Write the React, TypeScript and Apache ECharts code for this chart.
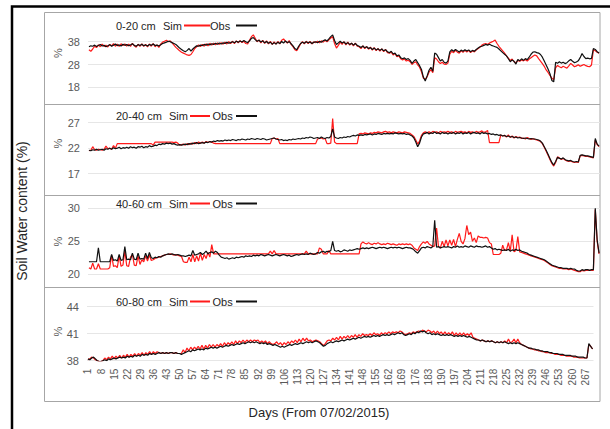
import React, { useEffect, useRef } from "react";
import * as echarts from "echarts";

const days: string[] = Array.from({ length: 271 }, (_, i) => String(i + 1));

const depthLabels = ["0-20 cm", "20-40 cm", "40-60 cm", "60-80 cm"];
const yMins = [18, 17, 20, 38];
const yMaxs = [43, 29, 30, 44];
const yIntervals = [10, 5, 5, 3];

const sim1 = [
  34.5, 33.8, 34.8, 36.0, 35.4, 36.6, 35.8, 36.9, 35.9, 36.5,
  35.7, 36.8, 36.2, 37.2, 36.0, 36.9, 35.9, 37.1, 36.3, 37.0,
  36.1, 36.9, 35.9, 37.3, 36.2, 35.6, 36.9, 35.9, 37.0, 36.0,
  36.8, 35.7, 37.0, 36.0, 37.2, 35.8, 36.6, 35.5, 37.0, 37.8,
  38.2, 38.6, 38.0, 38.4, 37.5, 36.5, 35.5, 34.8, 34.0, 33.4,
  33.0, 32.6, 32.2, 32.0, 32.4, 33.6, 35.0, 35.8, 36.6, 35.9,
  36.8, 36.0, 37.1, 36.2, 37.3, 36.5, 37.4, 36.6, 37.5, 36.8,
  37.6, 36.9, 37.8, 37.0, 38.0, 37.2, 38.2, 37.1, 38.4, 37.5,
  38.5, 37.6, 38.2, 37.2, 37.0, 38.6, 40.2, 41.0, 39.5, 38.0,
  38.8, 37.5, 38.6, 37.2, 38.4, 37.0, 38.2, 36.8, 37.9, 36.9,
  38.1, 37.0, 38.6, 39.2, 38.2, 37.4, 38.5, 36.8, 35.8, 34.5,
  34.0, 35.5, 37.0, 38.0, 37.0, 38.2, 37.2, 38.1, 37.0, 37.9,
  37.6, 38.2, 37.5, 38.4, 37.8, 38.6, 38.0, 38.8, 39.6, 40.2,
  37.2, 35.2, 36.4, 37.8, 36.8, 38.0, 36.6, 37.8, 36.5, 37.4,
  36.2, 37.4, 36.0, 35.8, 35.0, 36.2, 35.0, 35.9, 34.7, 35.6,
  34.3, 35.4, 34.1, 35.0, 33.9, 34.9, 33.6, 34.6, 33.2, 33.0,
  33.4, 32.2, 32.8, 31.4, 31.8, 30.5, 30.0, 30.4, 29.5, 29.9,
  29.2, 28.0, 28.8, 29.2, 27.8, 26.8, 24.8, 22.0, 21.5, 22.6,
  24.6, 25.8, 24.4, 31.0, 30.4, 29.2, 28.4, 29.0, 28.2, 28.0,
  28.6, 32.5, 33.8, 33.2, 34.2, 33.4, 33.0, 34.0, 33.3, 34.2,
  33.5, 34.2, 33.2, 34.0, 33.5, 34.4, 35.0, 35.6, 36.5, 37.0,
  37.2, 36.8, 37.4, 37.8, 38.2, 38.7, 37.2, 36.0, 35.0, 34.0,
  33.0, 31.8, 30.8, 29.8, 30.4, 29.2, 28.8, 29.8, 29.4, 30.0,
  29.6, 30.2, 29.5, 30.4, 31.0, 31.6, 32.2, 31.8, 30.6, 29.5,
  28.4, 27.2, 25.6, 24.5, 23.2, 22.0, 21.4, 26.5, 27.6, 27.0,
  26.6, 27.2, 26.8, 26.4, 27.4, 28.5, 27.8, 27.0, 27.4, 27.9,
  27.2, 27.6, 28.0, 27.5, 27.2, 27.0, 27.8, 34.5, 34.0, 33.4, 33.0,
];
const obs1 = [
  35.8, 36.2, 36.0, 36.5, 35.9, 36.3, 36.8, 36.1, 36.4, 35.8,
  36.2, 36.7, 36.0, 36.5, 37.0, 36.3, 36.6, 36.1, 36.9, 36.4,
  36.8, 36.2, 36.6, 37.1, 36.4, 36.0, 36.7, 36.3, 36.9, 36.2,
  36.6, 36.1, 36.8, 36.4, 37.0, 36.3, 36.5, 36.1, 36.7, 37.2,
  37.5, 37.8, 38.2, 38.0, 37.6, 37.2, 36.8, 36.0, 35.2, 34.6,
  34.0, 33.6, 34.2, 35.0, 33.9, 34.8, 35.6, 36.2, 36.0, 36.5,
  36.3, 36.8, 36.5, 37.0, 36.6, 37.1, 36.8, 37.3, 36.9, 37.4,
  37.0, 37.5, 37.2, 37.8, 37.3, 37.6, 38.0, 37.5, 38.2, 37.8,
  38.3, 37.9, 38.5, 38.0, 37.6, 38.4, 39.5, 39.8, 38.9, 38.2,
  38.6, 37.9, 38.4, 37.5, 38.1, 37.3, 37.8, 36.9, 37.6, 37.0,
  37.8, 37.2, 38.1, 37.4, 38.3, 37.6, 38.0, 37.1, 36.2, 35.0,
  34.5, 36.0, 37.2, 37.8, 37.3, 38.0, 37.5, 37.9, 37.2, 37.7,
  38.0, 37.5, 38.2, 37.8, 38.4, 38.8, 38.3, 39.2, 40.2, 41.0,
  38.5, 36.8, 37.5, 38.2, 37.4, 37.9, 37.0, 37.6, 36.8, 37.3,
  36.5, 37.2, 36.4, 36.0, 35.5, 36.1, 35.3, 35.8, 35.0, 35.4,
  34.6, 35.2, 34.4, 34.9, 34.2, 34.8, 34.0, 34.5, 33.6, 33.2,
  33.8, 32.6, 33.0, 31.8, 32.2, 31.0, 30.5, 30.9, 30.2, 30.6,
  29.8, 28.5, 29.5, 30.2, 28.8, 27.5, 25.8, 22.5, 20.8, 23.0,
  25.5, 26.8, 25.0, 33.0, 32.5, 31.0, 29.5, 30.2, 29.0, 28.6,
  29.5, 33.5, 34.5, 33.8, 34.6, 34.0, 33.5, 34.3, 33.8, 34.5,
  33.9, 34.4, 33.6, 34.2, 33.8, 34.6, 35.2, 35.8, 36.0, 36.4,
  36.8, 36.5, 36.9, 36.4, 36.1, 35.8, 35.5, 34.8, 34.0, 33.2,
  32.5, 31.8, 30.5, 29.2, 30.0, 29.4, 28.2, 30.2, 29.6, 30.5,
  29.8, 30.6, 30.1, 31.2, 32.5, 33.4, 33.6, 33.2, 33.0, 32.4,
  31.2, 29.5, 27.8, 26.0, 24.0, 21.0, 20.4, 29.0, 28.5, 29.2,
  28.6, 29.0, 28.4, 28.8, 29.6, 30.2, 29.4, 28.8, 29.1, 29.6,
  31.0, 32.8, 31.5, 30.6, 30.8, 30.5, 30.7, 35.0, 34.6, 33.6, 33.0,
];

const sim2 = [
  21.5, 21.6, 22.3, 21.7, 21.6, 21.8, 21.7, 21.6, 21.8, 22.4,
  21.9, 22.0, 21.8, 22.5, 22.0, 22.9, 22.9, 22.9, 22.9, 22.9,
  22.9, 22.9, 22.9, 22.9, 22.9, 22.9, 22.9, 22.9, 22.9, 22.9,
  22.9, 22.9, 22.9, 22.9, 22.6, 23.2, 23.2, 23.2, 23.2, 23.2,
  23.2, 23.2, 23.2, 23.2, 23.2, 23.1, 23.2, 23.0, 22.6, 22.7,
  22.8, 22.6, 22.9, 22.7, 23.0, 22.8, 23.1, 22.9, 23.2, 23.0,
  23.2, 23.0, 23.3, 23.1, 23.3, 23.2, 23.0, 22.9, 22.9, 22.9,
  22.9, 22.9, 22.9, 22.9, 22.9, 22.9, 22.9, 22.9, 22.9, 22.9,
  22.9, 22.9, 22.9, 22.9, 22.9, 22.9, 22.9, 22.9, 22.9, 22.9,
  22.9, 22.9, 22.9, 22.9, 22.9, 22.9, 22.9, 23.9, 24.0, 23.8,
  23.9, 22.9, 22.9, 22.9, 22.9, 22.9, 22.9, 22.9, 22.9, 22.9,
  22.9, 22.9, 22.9, 22.9, 22.9, 22.9, 22.9, 22.9, 22.9, 22.9,
  22.9, 23.8, 23.9, 24.0, 23.8, 23.9, 22.9, 22.9, 23.0, 27.8,
  23.2, 22.9, 22.9, 22.9, 22.9, 22.9, 22.9, 22.9, 22.9, 22.9,
  22.9, 22.9, 22.9, 24.8, 24.9, 24.8, 25.0, 24.9, 24.8, 25.0,
  24.9, 25.1, 25.0, 25.2, 25.1, 25.0, 25.2, 25.3, 25.1, 25.2,
  25.0, 25.2, 25.1, 25.0, 25.2, 25.1, 25.0, 25.2, 25.1, 25.0,
  24.9, 24.6, 24.3, 23.6, 22.8, 23.4, 24.5, 25.0, 25.2, 25.0,
  25.2, 25.0, 25.3, 25.1, 25.2, 25.0, 25.3, 25.1, 25.2, 25.1,
  25.3, 25.1, 25.2, 25.0, 25.3, 25.1, 25.2, 25.3, 25.1, 25.2,
  25.0, 25.3, 25.1, 25.2, 25.0, 25.3, 25.1, 25.2, 25.4, 25.1,
  25.2, 25.5, 23.1, 23.1, 23.1, 23.1, 23.1, 23.1, 24.6, 24.4,
  24.5, 24.2, 24.6, 24.1, 24.4, 24.0, 24.3, 24.1, 24.2, 23.9,
  24.0, 23.8, 24.1, 23.9, 23.7, 23.9, 23.7, 23.6, 23.5, 23.3,
  22.9, 22.2, 21.4, 20.6, 19.8, 19.0, 18.5, 19.2, 20.3, 20.1,
  19.8, 20.0, 19.7, 19.5, 19.4, 19.5, 19.3, 19.2, 19.3, 19.2,
  20.5, 20.6, 20.5, 20.4, 20.4, 20.3, 20.2, 20.1, 23.6, 22.7, 22.3,
];
const obs2 = [
  21.6, 21.5, 21.7, 21.6, 21.8, 21.6, 21.7, 21.8, 21.6, 21.9,
  21.8, 22.0, 21.8, 22.1, 21.9, 22.0, 22.2, 21.9, 22.1, 22.0,
  22.2, 22.0, 22.3, 22.1, 22.2, 22.0, 22.3, 22.2, 22.4, 22.1,
  22.3, 22.2, 22.5, 22.3, 22.4, 22.6, 22.5, 22.8, 22.7, 22.9,
  22.8, 23.0, 22.9, 23.0, 22.8, 22.9, 22.7, 22.6, 22.7, 22.6,
  22.7, 22.8, 22.7, 22.9, 22.8, 23.0, 22.9, 23.1, 22.9, 23.0,
  23.1, 23.0, 23.2, 23.1, 23.3, 23.2, 23.4, 23.3, 23.5, 23.4,
  23.5, 23.4, 23.6, 23.5, 23.6, 23.5, 23.7, 23.6, 23.5, 23.7,
  23.6, 23.8, 23.7, 23.6, 23.8, 23.7, 23.9, 23.8, 23.7, 23.9,
  23.8, 23.7, 23.9, 23.8, 23.6, 23.7, 23.8, 23.9, 24.0, 23.8,
  23.7, 23.6, 23.7, 23.5, 23.6, 23.5, 23.7, 23.6, 23.8, 23.7,
  23.8, 23.9, 23.8, 24.0, 23.9, 24.1, 24.0, 24.2, 24.1, 23.9,
  24.0, 24.1, 23.9, 24.2, 24.0, 23.9, 24.1, 24.0, 24.3, 25.8,
  24.2, 24.0, 23.9, 24.1, 24.0, 24.2, 24.1, 24.3, 24.2, 24.4,
  24.5, 24.4, 24.6, 24.5, 24.6, 24.5, 24.7, 24.6, 24.7, 24.8,
  24.6, 24.8, 24.7, 24.9, 24.8, 24.7, 24.9, 24.8, 24.9, 24.8,
  24.9, 24.8, 25.0, 24.9, 24.8, 24.9, 24.8, 24.9, 24.7, 24.8,
  24.6, 24.4, 24.0, 23.2, 22.3, 23.0, 24.2, 24.8, 24.9, 25.1,
  24.8, 25.0, 24.9, 25.2, 24.9, 25.0, 24.8, 25.1, 24.9, 25.0,
  24.8, 25.0, 24.9, 25.1, 24.8, 25.0, 24.9, 25.1, 24.8, 25.0,
  24.9, 25.1, 24.8, 25.0, 25.1, 24.9, 25.0, 24.8, 25.1, 24.9,
  25.0, 24.8, 24.9, 24.7, 24.8, 24.6, 24.7, 24.5, 24.6, 24.4,
  24.5, 24.3, 24.4, 24.2, 24.3, 24.1, 24.2, 24.0, 24.1, 24.0,
  23.9, 24.0, 23.9, 23.8, 23.9, 23.8, 23.8, 23.7, 23.6, 23.4,
  23.0, 22.3, 21.6, 20.8, 20.0, 19.2, 18.7, 19.4, 20.2, 20.0,
  19.9, 20.1, 19.8, 19.6, 19.5, 19.6, 19.4, 19.3, 19.4, 19.3,
  20.6, 20.7, 20.6, 20.5, 20.5, 20.4, 20.3, 20.2, 23.9, 22.8, 22.4,
];

const sim3 = [
  21.0, 20.8, 21.7, 20.8, 20.8, 21.6, 20.8, 20.8, 20.8, 20.8,
  20.8, 21.0, 22.9, 21.2, 21.3, 21.0, 22.8, 21.2, 21.4, 23.5,
  21.3, 21.2, 22.6, 23.0, 21.4, 21.3, 22.8, 21.5, 22.2, 21.9,
  22.8, 22.0, 22.9, 22.1, 22.2, 22.4, 22.5, 22.6, 22.7, 22.8,
  22.9, 23.0, 23.0, 23.1, 23.0, 22.9, 23.0, 22.9, 22.8, 22.7,
  21.9, 21.8, 21.8, 22.6, 21.9, 23.0, 21.9, 22.8, 22.0, 23.2,
  22.1, 23.0, 22.4, 23.3, 22.6, 24.5, 23.1, 23.1, 23.1, 23.1,
  23.1, 23.1, 23.1, 23.1, 23.1, 23.1, 23.1, 23.1, 23.1, 23.1,
  23.1, 23.1, 23.1, 23.1, 23.1, 23.1, 23.1, 23.1, 23.1, 23.1,
  23.1, 23.1, 23.1, 23.1, 23.1, 23.1, 23.5, 23.1, 23.6, 23.1,
  23.1, 23.1, 23.1, 23.1, 23.1, 23.1, 23.1, 23.1, 23.1, 23.1,
  23.1, 23.1, 23.1, 23.1, 23.1, 23.5, 23.1, 23.1, 23.1, 23.1,
  23.1, 23.1, 24.0, 23.8, 23.1, 23.1, 23.1, 23.6, 23.1, 23.1,
  23.1, 23.1, 23.1, 23.1, 23.1, 23.1, 23.1, 23.1, 23.1, 23.1,
  23.1, 23.1, 23.1, 23.1, 24.6, 24.9, 24.7, 24.6, 24.8, 24.6,
  24.5, 24.7, 24.6, 24.8, 24.6, 24.5, 24.6, 24.5, 24.7, 24.6,
  24.5, 24.6, 24.5, 24.4, 24.6, 24.5, 24.6, 24.5, 24.6, 24.5,
  24.6, 24.4, 24.0, 23.8, 23.6, 24.2, 24.6, 24.9, 24.7, 25.0,
  24.6, 24.4, 24.2, 24.3, 27.0, 24.2, 24.0, 25.0, 24.2, 25.2,
  24.3, 25.2, 24.4, 25.3, 24.2, 25.3, 26.2, 25.0, 24.6, 25.4,
  27.4, 26.0, 26.4, 25.0, 25.5, 24.8, 25.8, 25.6, 25.6, 25.5,
  25.6, 25.5, 24.8, 24.6, 23.0, 23.0, 23.0, 23.0, 23.2, 24.4,
  23.6, 23.7, 24.8, 23.5, 26.0, 23.4, 23.6, 25.7, 23.4, 23.3,
  23.2, 23.1, 23.0, 22.9, 22.8, 22.7, 22.6, 22.5, 22.4, 22.3,
  22.2, 22.1, 21.9, 21.7, 21.5, 21.3, 21.2, 21.1, 21.0, 20.9,
  20.9, 20.8, 20.8, 20.8, 20.7, 20.8, 20.7, 20.6, 20.5, 20.4,
  20.4, 20.6, 20.5, 20.6, 20.6, 20.6, 20.6, 20.6, 29.8, 25.0, 23.1,
];
const obs3 = [
  21.9, 21.9, 21.9, 21.9, 21.9, 24.0, 21.9, 21.9, 21.9, 21.9,
  21.9, 21.9, 23.0, 22.1, 22.2, 22.0, 23.0, 22.1, 22.2, 24.2,
  22.2, 22.3, 22.2, 23.2, 22.3, 22.2, 23.2, 22.3, 22.4, 22.3,
  23.2, 22.4, 23.3, 22.5, 22.4, 22.6, 22.5, 22.7, 22.6, 22.8,
  22.9, 23.0, 23.1, 23.0, 23.1, 23.0, 22.9, 23.0, 22.9, 22.8,
  22.8, 22.7, 22.8, 22.9, 22.8, 23.6, 22.9, 23.0, 23.1, 23.3,
  23.0, 23.2, 23.5, 23.1, 23.3, 23.4, 23.2, 23.5, 23.3, 22.9,
  22.6, 22.5, 22.4, 22.5, 22.3, 22.4, 22.5, 22.4, 22.6, 22.5,
  22.6, 22.7, 22.6, 22.8, 22.7, 22.8, 22.7, 22.9, 22.8, 22.9,
  22.8, 23.0, 22.9, 22.8, 22.9, 23.0, 22.9, 22.8, 22.9, 23.0,
  22.9, 22.8, 22.9, 23.0, 22.9, 22.8, 22.9, 22.7, 22.8, 22.9,
  23.0, 22.9, 23.0, 23.1, 23.0, 23.1, 23.0, 23.2, 23.1, 23.0,
  23.1, 23.3, 23.2, 23.4, 23.5, 23.3, 23.5, 23.4, 23.6, 25.0,
  23.6, 23.5, 23.6, 23.4, 23.5, 23.7, 23.6, 23.5, 23.7, 23.6,
  23.7, 23.8, 23.9, 23.8, 23.9, 24.0, 23.9, 24.0, 23.9, 24.0,
  24.1, 24.0, 23.9, 24.0, 24.1, 24.0, 24.1, 24.0, 23.9, 24.0,
  24.1, 24.0, 24.1, 24.0, 24.1, 24.0, 23.9, 24.0, 24.1, 24.0,
  24.0, 23.9, 23.7, 23.4, 23.2, 23.6, 24.0, 24.1, 24.0, 24.2,
  24.1, 24.0, 24.2, 28.2, 24.1, 24.2, 24.0, 24.1, 24.2, 24.1,
  24.2, 24.1, 24.0, 24.2, 24.1, 24.3, 24.1, 24.2, 24.1, 24.3,
  24.2, 24.1, 24.3, 24.2, 24.1, 24.3, 24.2, 24.2, 24.1, 24.2,
  24.3, 24.1, 24.2, 24.0, 23.8, 23.9, 23.7, 23.8, 23.7, 23.6,
  23.7, 23.6, 23.8, 23.5, 23.7, 23.6, 23.8, 23.6, 23.7, 23.5,
  23.4, 23.3, 23.2, 23.0, 22.9, 22.8, 22.7, 22.6, 22.5, 22.4,
  22.3, 22.2, 22.0, 21.8, 21.6, 21.4, 21.3, 21.2, 21.1, 21.0,
  21.0, 20.9, 20.9, 20.9, 20.8, 20.9, 20.8, 20.8, 20.6, 20.5,
  20.5, 20.7, 20.6, 20.7, 20.7, 20.6, 20.7, 20.7, 30.0, 25.2, 23.2,
];

const sim4 = [
  38.1, 38.2, 38.4, 38.3, 38.1, 38.0, 37.9, 37.9, 38.0, 38.3,
  38.1, 38.4, 38.2, 38.5, 38.2, 38.5, 38.3, 38.6, 38.3, 38.6,
  38.4, 38.7, 38.4, 38.7, 38.5, 38.8, 38.5, 38.8, 38.6, 38.9,
  38.6, 38.9, 38.7, 39.0, 38.7, 39.0, 38.8, 39.0, 38.9, 38.8,
  38.9, 38.8, 38.9, 38.8, 38.9, 38.9, 38.8, 38.9, 38.8, 38.8,
  38.8, 39.2, 38.9, 39.4, 39.1, 39.5, 39.2, 39.5, 39.3, 39.6,
  39.3, 39.7, 39.3, 39.7, 39.4, 39.8, 39.5, 39.8, 39.5, 39.8,
  39.6, 39.9, 39.6, 40.0, 39.7, 40.0, 39.8, 40.1, 39.8, 40.2,
  39.9, 40.2, 40.0, 40.3, 40.0, 40.3, 40.1, 40.3, 40.1, 40.3,
  40.2, 40.3, 40.0, 40.2, 40.0, 40.2, 39.9, 40.1, 39.9, 39.8,
  39.9, 40.1, 39.8, 40.0, 39.7, 40.0, 39.8, 40.1, 39.9, 40.2,
  40.0, 40.3, 40.0, 40.4, 40.1, 40.5, 40.2, 40.5, 40.2, 40.3,
  40.1, 40.2, 40.3, 40.2, 40.1, 39.9, 39.7, 39.9, 40.2, 40.3,
  40.2, 40.5, 40.3, 40.6, 40.3, 40.7, 40.4, 40.7, 40.5, 40.8,
  40.5, 40.8, 40.6, 40.9, 40.6, 40.9, 40.7, 41.0, 40.8, 40.9,
  40.8, 41.0, 40.8, 41.1, 40.9, 41.0, 40.8, 41.1, 40.9, 41.1,
  41.0, 41.2, 41.0, 41.2, 41.1, 41.2, 41.1, 41.3, 41.2, 41.0,
  40.9, 41.0, 41.1, 41.0, 41.2, 41.1, 41.2, 41.3, 41.2, 41.4,
  41.3, 41.2, 41.4, 41.3, 41.1, 41.3, 41.0, 41.3, 41.0, 41.2,
  40.9, 41.2, 40.9, 41.1, 40.9, 41.2, 40.8, 41.1, 40.8, 41.1,
  40.8, 41.1, 40.8, 41.0, 40.8, 41.1, 40.6, 40.5, 40.4, 40.3,
  40.2, 40.3, 40.2, 40.1, 40.2, 40.1, 40.2, 40.1, 40.0, 40.1,
  40.0, 40.1, 40.0, 40.2, 40.0, 40.4, 40.0, 40.1, 40.4, 40.0,
  40.4, 40.0, 39.8, 39.7, 39.6, 39.5, 39.4, 39.3, 39.3, 39.2,
  39.2, 39.1, 39.1, 39.0, 39.0, 38.9, 38.9, 38.9, 38.8, 38.8,
  38.7, 38.7, 38.7, 38.6, 38.6, 38.6, 38.5, 38.5, 38.5, 38.5,
  38.4, 38.4, 38.4, 38.3, 38.3, 38.3, 38.3, 38.3, 39.8, 39.6, 39.3,
];
const obs4 = [
  38.2, 38.1, 38.3, 38.4, 38.2, 38.0, 37.9, 37.9, 38.0, 38.1,
  38.0, 38.2, 38.1, 38.2, 38.3, 38.2, 38.3, 38.4, 38.3, 38.4,
  38.3, 38.5, 38.4, 38.5, 38.4, 38.6, 38.5, 38.6, 38.5, 38.7,
  38.6, 38.7, 38.6, 38.8, 38.7, 38.8, 38.7, 38.8, 38.9, 38.8,
  38.9, 38.8, 38.9, 38.8, 38.9, 38.9, 38.8, 38.9, 38.8, 38.8,
  38.7, 38.8, 38.9, 39.0, 39.1, 39.0, 39.2, 39.1, 39.2, 39.3,
  39.2, 39.3, 39.2, 39.4, 39.3, 39.4, 39.5, 39.4, 39.5, 39.4,
  39.5, 39.6, 39.5, 39.6, 39.7, 39.6, 39.7, 39.8, 39.7, 39.8,
  39.9, 39.8, 39.9, 40.0, 39.9, 40.0, 40.1, 40.0, 40.1, 40.0,
  40.1, 40.0, 39.9, 40.0, 39.9, 40.0, 39.8, 39.9, 39.8, 39.7,
  39.8, 39.7, 39.6, 39.5, 39.6, 39.5, 39.6, 39.7, 39.8, 39.7,
  39.8, 39.9, 39.8, 39.9, 40.0, 39.9, 40.0, 40.1, 40.0, 40.1,
  40.0, 40.1, 40.2, 40.1, 40.0, 39.8, 39.6, 39.7, 39.9, 40.0,
  40.1, 40.0, 40.1, 40.2, 40.1, 40.2, 40.3, 40.2, 40.3, 40.4,
  40.3, 40.4, 40.5, 40.4, 40.5, 40.6, 40.5, 40.6, 40.7, 40.6,
  40.7, 40.6, 40.7, 40.8, 40.7, 40.8, 40.7, 40.8, 40.9, 40.8,
  40.9, 40.8, 40.9, 41.0, 40.9, 41.0, 41.1, 41.0, 41.1, 40.9,
  40.8, 40.9, 41.0, 40.9, 41.1, 41.0, 41.2, 41.1, 41.3, 41.2,
  41.3, 41.1, 41.0, 41.1, 40.9, 41.0, 40.9, 41.0, 40.9, 40.8,
  40.9, 40.8, 40.9, 40.8, 40.9, 40.8, 40.7, 40.8, 40.7, 40.8,
  40.7, 40.8, 40.7, 40.6, 40.7, 40.6, 40.5, 40.4, 40.3, 40.3,
  40.2, 40.3, 40.2, 40.1, 40.2, 40.1, 40.2, 40.1, 40.0, 40.1,
  40.0, 40.1, 40.0, 40.1, 40.0, 39.9, 40.0, 39.9, 40.0, 39.9,
  40.0, 39.9, 39.8, 39.7, 39.6, 39.5, 39.4, 39.4, 39.3, 39.3,
  39.2, 39.2, 39.1, 39.1, 39.0, 39.0, 39.0, 38.9, 38.9, 38.8,
  38.8, 38.8, 38.7, 38.7, 38.7, 38.6, 38.6, 38.6, 38.6, 38.5,
  38.5, 38.5, 38.4, 38.4, 38.4, 38.4, 38.3, 38.3, 39.9, 39.6, 39.3,
];

const simSeries = [sim1, sim2, sim3, sim4];
const obsSeries = [obs1, obs2, obs3, obs4];

// layout (pixels)
const gridTops = [30.3, 112.5, 208.3, 306.7];
const gridHeights = [57, 61.2, 66, 54];
const gridLefts = [88, 88, 88, 87];
const gridRights = [10, 10, 10, 16.5];
const legendYs = [25.5, 116, 203.5, 301.5];
const pctYs = [53, 143.5, 241.5, 331.5];
const separatorYs = [104.5, 195.5, 287.5];

const FONT = "'Liberation Sans', Arial, sans-serif";
const RED = "#ff1a1a";
const BLACK = "#111111";
const LABEL = "#595959";

export default function App() {
  const ref = useRef<HTMLDivElement>(null);
  useEffect(() => {
    if (!ref.current) return;
    const chart = echarts.init(ref.current, undefined, { renderer: "svg" });
    const grids: any[] = [];
    const xAxes: any[] = [];
    const yAxes: any[] = [];
    const series: any[] = [];
    const graphic: any[] = [];

    for (let p = 0; p < 4; p++) {
      grids.push({
        left: gridLefts[p],
        right: gridRights[p],
        top: gridTops[p],
        height: gridHeights[p],
        containLabel: false,
      });
      xAxes.push({
        type: "category",
        gridIndex: p,
        data: days,
        boundaryGap: true,
        axisLine: { show: false },
        axisTick: { show: false },
        splitLine: { show: false },
        axisLabel:
          p === 3
            ? {
                show: true,
                interval: 6,
                rotate: 90,
                fontSize: 10,
                color: LABEL,
                fontFamily: FONT,
                margin: 8,
              }
            : { show: false },
      });
      const hideMax = yMaxs[p] % yIntervals[p] !== yMins[p] % yIntervals[p];
      yAxes.push({
        type: "value",
        gridIndex: p,
        min: yMins[p],
        max: yMaxs[p],
        interval: yIntervals[p],
        axisLine: { show: false },
        axisTick: { show: false },
        axisLabel: {
          color: LABEL,
          fontSize: 11,
          fontFamily: FONT,
          margin: 8,
          showMaxLabel: !hideMax,
        },
        splitLine: {
          show: true,
          showMaxLine: !hideMax,
          lineStyle: { color: "#e6e6e6", width: 1 },
        },
      });
      series.push({
        name: "Sim",
        type: "line",
        xAxisIndex: p,
        yAxisIndex: p,
        data: simSeries[p],
        symbol: "none",
        lineStyle: { color: RED, width: 1.2 },
        itemStyle: { color: RED },
        z: 2,
      });
      series.push({
        name: "Obs",
        type: "line",
        xAxisIndex: p,
        yAxisIndex: p,
        data: obsSeries[p],
        symbol: "none",
        lineStyle: { color: BLACK, width: 1.2 },
        itemStyle: { color: BLACK },
        z: 3,
      });

      // legend-like labels
      const ly = legendYs[p];
      const simX = p === 0 ? 163 : 169;
      const redStart = p === 0 ? 184 : 190;
      const obsX = p === 0 ? 210 : 212.5;
      const txt = { fill: "#262626", fontSize: 11, fontFamily: FONT, verticalAlign: "middle" };
      graphic.push({ type: "text", x: 116, y: ly, style: { ...txt, text: depthLabels[p] } });
      graphic.push({ type: "text", x: simX, y: ly, style: { ...txt, text: "Sim" } });
      graphic.push({
        type: "line",
        shape: { x1: redStart, y1: ly, x2: 210, y2: ly },
        style: { stroke: RED, lineWidth: 2 },
      });
      graphic.push({ type: "text", x: obsX, y: ly, style: { ...txt, text: "Obs" } });
      graphic.push({
        type: "line",
        shape: { x1: 236, y1: ly, x2: 257, y2: ly },
        style: { stroke: BLACK, lineWidth: 2 },
      });
      // % axis title
      graphic.push({
        type: "text",
        x: 58,
        y: pctYs[p],
        rotation: Math.PI / 2,
        style: {
          text: "%",
          fill: LABEL,
          fontSize: 11,
          fontFamily: FONT,
          align: "center",
          verticalAlign: "middle",
        },
      });
    }

    // outer black frame
    graphic.push({
      type: "polyline",
      shape: { points: [[12, 440], [12, 6.5], [620, 6.5]] },
      style: { stroke: "#000", lineWidth: 2.5, fill: null },
      silent: true,
    });
    // panel boxes
    graphic.push({
      type: "rect",
      shape: { x: 44.5, y: 12.5, width: 555.5, height: 389 },
      style: { stroke: "#a6a6a6", lineWidth: 1, fill: null },
      silent: true,
    });
    separatorYs.forEach((y) => {
      graphic.push({
        type: "line",
        shape: { x1: 44.5, y1: y, x2: 600, y2: y },
        style: { stroke: "#a6a6a6", lineWidth: 1 },
        silent: true,
      });
    });
    // axis titles
    graphic.push({
      type: "text",
      x: 22,
      y: 211,
      rotation: Math.PI / 2,
      style: {
        text: "Soil Water content (%)",
        fill: "#262626",
        fontSize: 14,
        fontFamily: FONT,
        align: "center",
        verticalAlign: "middle",
      },
    });
    graphic.push({
      type: "text",
      x: 319,
      y: 412,
      style: {
        text: "Days (From 07/02/2015)",
        fill: "#262626",
        fontSize: 13,
        fontFamily: FONT,
        align: "center",
        verticalAlign: "middle",
      },
    });

    chart.setOption({
      animation: false,
      backgroundColor: "#ffffff",
      grid: grids,
      xAxis: xAxes,
      yAxis: yAxes,
      series,
      graphic,
    });
    return () => chart.dispose();
  }, []);

  return (
    <div
      ref={ref}
      style={{ position: "fixed", left: 0, top: 0, width: 610, height: 429, background: "#fff" }}
    />
  );
}
